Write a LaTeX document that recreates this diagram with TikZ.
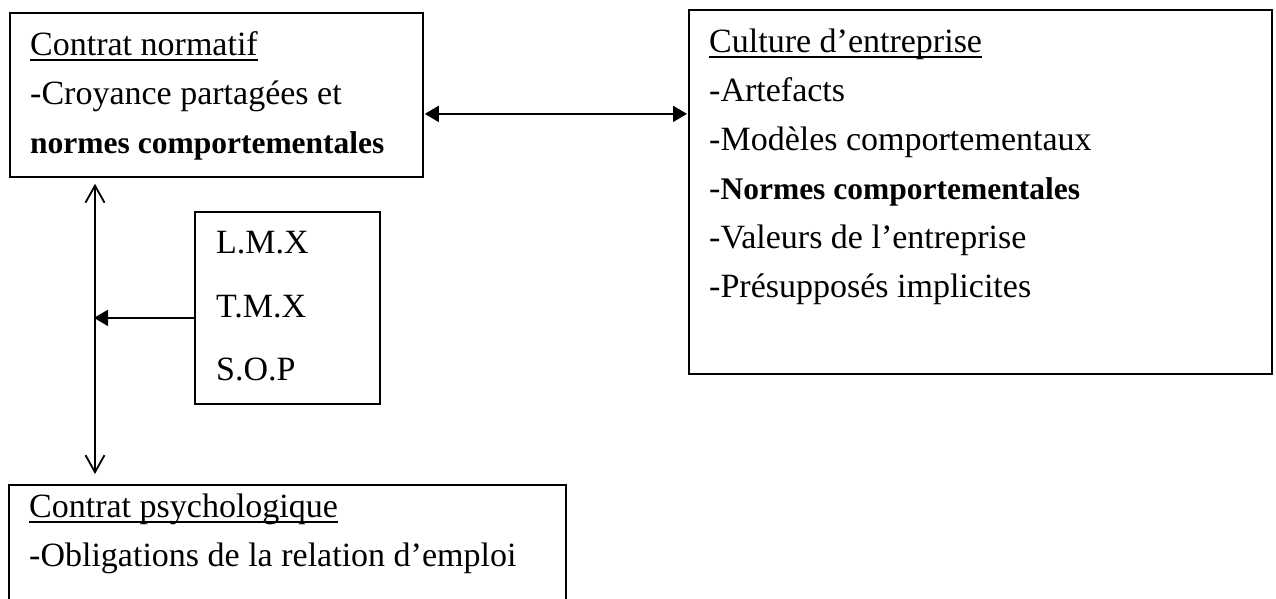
\documentclass[tikz,border=0pt]{standalone}
\usepackage{fontspec}
\setmainfont{Liberation Serif}
\usetikzlibrary{arrows.meta, positioning}
\newcommand{\souligne}[1]{\setbox0=\hbox{#1}\rlap{\rule[-5.5pt]{\wd0}{1.6pt}}\box0}
\newcommand{\gras}[1]{{\fontsize{31.5}{49}\selectfont\bfseries #1}}

\begin{document}
\begin{tikzpicture}[x=1pt, y=-1pt,
    cadre/.style={draw, line width=1.8pt, anchor=north west, inner sep=0pt},
    texte/.style={anchor=north west, inner sep=0pt, align=left, font=\fontsize{34}{49}\selectfont},
    sigles/.style={texte, font=\fontsize{34}{63.5}\selectfont},
    >={Triangle[length=14pt, width=16pt]},
    pleine/.style={line width=1.8pt},
    ouverte/.style={line width=1.8pt, {Straight Barb[length=17pt, width=19pt]}-{Straight Barb[length=17pt, width=19pt]}}
    ]
  \useasboundingbox (0,0) rectangle (1276,599);
  \node [cadre, minimum width=413pt, minimum height=164pt] (normatif) at (9,12) {};
  \node [cadre, minimum width=583pt, minimum height=364pt] (culture) at (688,9) {};
  \node [cadre, minimum width=185pt, minimum height=192pt] (lmx) at (194,211) {};
  \node [cadre, minimum width=557pt, minimum height=160pt] (psycho) at (8,484) {};

  \node [texte, below right=8.9pt and 21pt of normatif.north west] (normatif-txt)
    {\strut\souligne{Contrat normatif}\\
     \strut-Croyance partagées et\\
     \strut\gras{normes comportementales}};
  \node [texte, below right=8.9pt and 21pt of culture.north west] (culture-txt)
    {\strut\souligne{Culture d’entreprise}\\
     \strut-Artefacts\\
     \strut-Modèles comportementaux\\
     \strut-\gras{Normes comportementales}\\
     \strut-Valeurs de l’entreprise\\
     \strut-Présupposés implicites};
  \node [sigles, below right=-2pt and 22pt of lmx.north west] (lmx-txt)
    {\strut L.M.X\\
     \strut T.M.X\\
     \strut S.O.P};
  \node [texte, below right=-1.3pt and 21pt of psycho.north west] (psycho-txt)
    {\strut\souligne{Contrat psychologique}\\
     \strut-Obligations de la relation d’emploi};

  \coordinate (g) at ([yshift=-19pt]normatif.east);
  \draw [pleine, <->, shorten <=1pt, shorten >=1pt] (g) -- (g -| culture.west);
  \coordinate (h) at ([xshift=86pt]normatif.south west);
  \draw [ouverte, shorten <=6pt, shorten >=10pt] (h) -- (h |- psycho.north);
  \coordinate (m) at ([yshift=-10pt]lmx.west);
  \draw [pleine, ->, shorten >=-1pt] (m) -- (m -| h);
\end{tikzpicture}
\end{document}
